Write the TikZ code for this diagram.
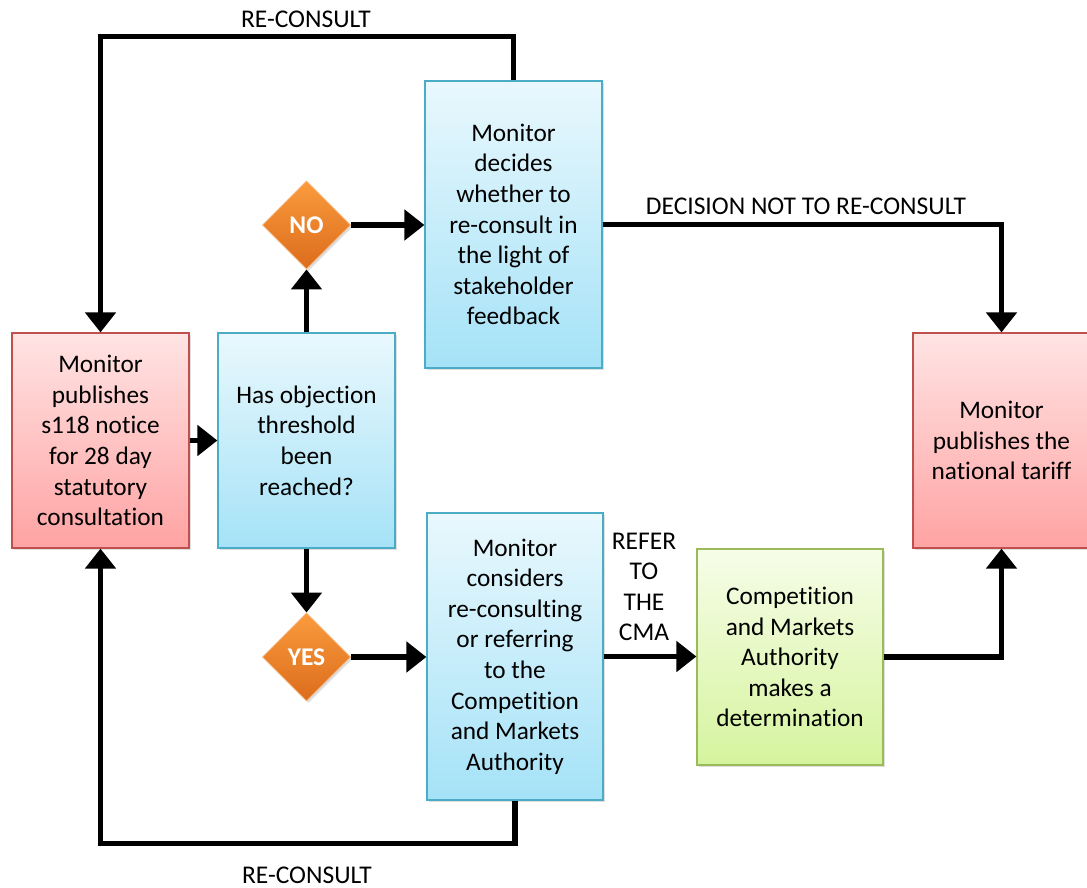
\documentclass[tikz,border=0pt]{standalone}
\usepackage{fontspec}
\setmainfont{Carlito}[Ligatures=NoCommon]
\usetikzlibrary{arrows.meta,shadows,shapes.geometric}
\definecolor{redtop}{HTML}{FFE4E4}
\definecolor{redbot}{HTML}{FFA3A3}
\definecolor{redline}{HTML}{C0504D}
\definecolor{bluetop}{HTML}{E9F8FD}
\definecolor{bluebot}{HTML}{A5E2F7}
\definecolor{blueline}{HTML}{4BACC6}
\definecolor{greentop}{HTML}{F7FDE8}
\definecolor{greenbot}{HTML}{D5F49E}
\definecolor{greenline}{HTML}{9BBB59}
\definecolor{orangetop}{HTML}{FA9B3D}
\definecolor{orangebot}{HTML}{DC6C1C}
\definecolor{orangeline}{HTML}{F9B070}
\tikzset{
  x=1pt, y=1pt,
  box/.style={rectangle, line width=1.2pt, align=center, inner sep=0pt,
    font=\fontsize{25.3}{30.6}\selectfont,
    drop shadow={opacity=0.25, shadow xshift=2pt, shadow yshift=-2pt}},
  redbox/.style={box, draw=redline, top color=redtop, bottom color=redbot},
  bluebox/.style={box, draw=blueline, top color=bluetop, bottom color=bluebot},
  greenbox/.style={box, draw=greenline, top color=greentop, bottom color=greenbot},
  decision/.style={diamond, aspect=1, minimum size=88pt, inner sep=0pt,
    draw=orangeline, line width=0.8pt, top color=orangetop, bottom color=orangebot,
    text=white, font=\fontsize{25.5}{28}\selectfont\bfseries,
    drop shadow={opacity=0.25, shadow xshift=2pt, shadow yshift=-2pt}},
  flow/.style={line width=5.5pt, -{Triangle[length=20pt,width=30pt]}},
  lbl/.style={align=center, inner sep=0pt, font=\fontsize{25.5}{30.6}\selectfont},
}
\begin{document}
\begin{tikzpicture}
\useasboundingbox (0,0) rectangle (1087,-888);
\node[redbox, minimum width=177pt, minimum height=215pt] (A) at (100.5,-440.5)
  {Monitor\\publishes\\s118 notice\\for 28 day\\statutory\\consultation};
\node[bluebox, minimum width=177pt, minimum height=215pt] (B) at (306.5,-440.5)
  {Has objection\\threshold\\been\\reached?};
\node[bluebox, minimum width=177pt, minimum height=287pt] (C) at (513.5,-224.5)
  {Monitor\\decides\\whether to\\re-consult in\\the light of\\stakeholder\\feedback};
\node[bluebox, minimum width=176pt, minimum height=287pt] (D) at (515,-656.5)
  {Monitor\\considers\\re-consulting\\or referring\\to the\\Competition\\and Markets\\Authority};
\node[greenbox, minimum width=186pt, minimum height=216pt] (E) at (790,-657)
  {Competition\\and Markets\\Authority\\makes a\\determination};
\node[redbox, minimum width=177pt, minimum height=215pt] (F) at (1001.5,-440.5)
  {Monitor\\publishes the\\national tariff};
\node[decision] (NO) at (306.5,-225) {NO};
\node[decision] (YES) at (306.5,-657) {YES};

\draw[flow] (A.east) -- (B.west);
\draw[flow] (B.north) -- (NO.south);
\draw[flow] (B.south) -- (YES.north);
\draw[flow] (NO.east) -- (NO.east -| C.west);
\draw[flow] (YES.east) -- (YES.east -| D.west);
\draw[flow] (D.east) -- (D.east -| E.west);
\draw[flow] (C.north) -- ++(0,44) -| (A.north);
\draw[flow] (D.south) -- ++(0,-43) -| (A.south);
\draw[flow] (C.east) -| (F.north);
\draw[flow] (E.east) -| (F.south);

\node[lbl] (l1) at (306,-19) {RE-CONSULT};
\node[lbl] (l2) at (307,-875) {RE-CONSULT};
\node[lbl] (l3) at (806,-206) {DECISION NOT TO RE-CONSULT};
\node[lbl] (l4) at (644,-587) {REFER\\TO\\THE\\CMA};
\end{tikzpicture}
\end{document}
